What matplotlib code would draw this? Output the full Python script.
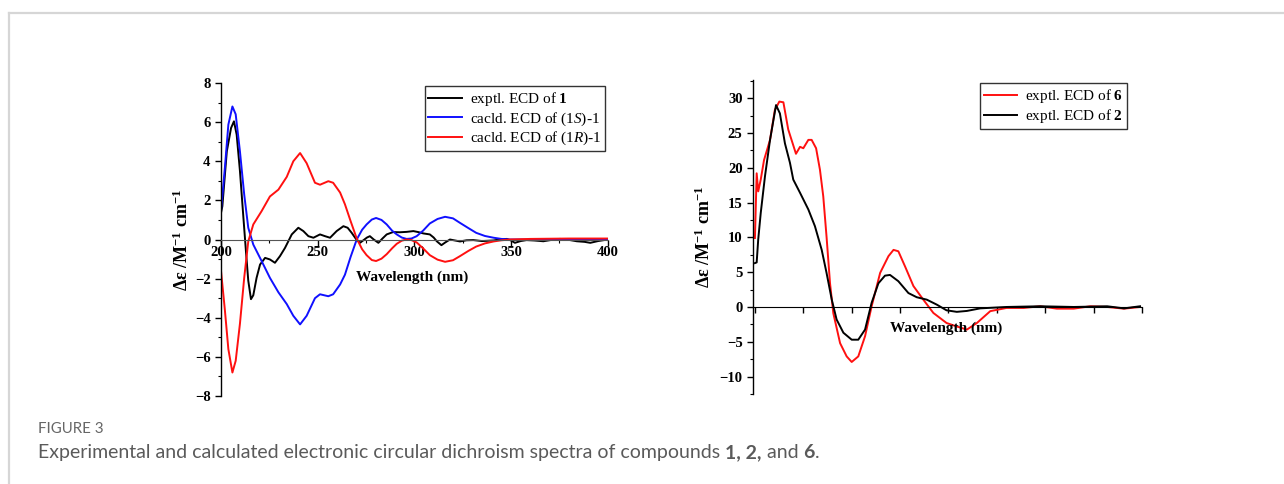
import numpy as np
import matplotlib
matplotlib.use('Agg')
import matplotlib.pyplot as plt
from matplotlib.ticker import MultipleLocator, NullFormatter
from matplotlib.lines import Line2D

plt.rcParams['font.family'] = ['Liberation Serif', 'DejaVu Serif']
plt.rcParams['mathtext.fontset'] = 'custom'
plt.rcParams['mathtext.rm'] = 'Liberation Serif'
plt.rcParams['mathtext.it'] = 'Liberation Serif:italic'
plt.rcParams['mathtext.bf'] = 'Liberation Serif:bold'

# ---- panel A: compound 1 (exptl vs calculated) ----
wl_exp1 = [200, 200.7, 203, 205.2, 206.7, 208.1, 209.8, 211.6, 212.9, 214.1, 215.5, 216.7, 218.4,
           220.2, 222.8, 225.3, 227.9, 230.5, 233.1, 236.6, 240, 242.6, 245.2, 247.8, 251.2,
           253.8, 256.4, 259.8, 263.3, 265.5, 267.6, 270, 271.9, 273.5, 275.5, 277, 279, 281.4,
           283.5, 285.7, 289, 292.5, 296, 299.5, 302, 304.7, 308, 310, 311.6, 314, 316, 318.4,
           321, 323.6, 327, 330.5, 335, 340.9, 344, 347.8, 350, 352, 355, 358, 362, 366.7, 371,
           375.3, 380, 384, 388, 391, 395, 400]
cd_exp1 = [1.36, 1.7, 4.5, 5.7, 6.04, 5.36, 3.5, 1.1, -0.6, -2.1, -3.05, -2.85, -1.96,
           -1.28, -0.94, -1.02, -1.19, -0.85, -0.43, 0.26, 0.6, 0.43, 0.17, 0.09, 0.26,
           0.17, 0.09, 0.43, 0.68, 0.6, 0.34, 0.0, -0.17, -0.05, 0.1, 0.17, 0.0, -0.17,
           0.05, 0.26, 0.38, 0.37, 0.39, 0.43, 0.38, 0.31, 0.26, 0.1, -0.09, -0.29, -0.15, 0.0,
           -0.05, -0.1, -0.04, -0.03, -0.08, -0.05, 0.0, 0.03, -0.05, -0.17, -0.08, -0.03, -0.05, -0.09, -0.02,
           0.03, -0.02, -0.09, -0.12, -0.17, -0.08, 0.0]

wl_calc1 = [200, 202, 203.8, 205.9, 207.6, 209.8, 212, 214.1, 216.7, 221, 225.3, 229.7, 234,
            237.4, 240.9, 244.3, 248.6, 251.2, 255.5, 258, 261.6, 264.1, 267, 270.2, 273, 275.3,
            278, 280.2, 283, 285.7, 288.5, 290.9, 293.5, 296, 298.5, 301.2, 304.5, 308, 312,
            315.9, 320, 323.6, 328, 332, 336.5, 341, 345, 349.5, 360, 380, 400]
cd_calc1S = [1.45, 3.66, 5.87, 6.8, 6.4, 4.5, 2.3, 0.6, -0.26, -1.1, -1.96, -2.7, -3.3,
             -3.9, -4.34, -3.9, -3.0, -2.8, -2.9, -2.8, -2.3, -1.8, -0.9, 0.0, 0.5, 0.77,
             1.02, 1.1, 1.0, 0.77, 0.45, 0.26, 0.1, 0.03, 0.05, 0.17, 0.45, 0.82, 1.05,
             1.16, 1.08, 0.85, 0.58, 0.34, 0.18, 0.09, 0.03, 0.0, 0.0, 0.0, 0.0]
cd_calc1R = [-1.6, -3.6, -5.6, -6.8, -6.2, -4.3, -1.96, -0.1, 0.77, 1.45, 2.2, 2.55, 3.2,
             4.0, 4.42, 3.9, 2.9, 2.8, 2.98, 2.9, 2.4, 1.8, 0.95, 0.05, -0.5, -0.8,
             -1.05, -1.1, -0.98, -0.75, -0.45, -0.22, -0.06, 0.0, -0.03, -0.15, -0.45, -0.8, -1.03,
             -1.14, -1.06, -0.85, -0.58, -0.36, -0.2, -0.1, -0.04, 0.0, 0.03, 0.05, 0.05]

# ---- panel B: compounds 6 and 2 (exptl) ----
wl_exp6 = [200, 200.9, 201.7, 203, 204.7, 207.8, 210.3, 212.6, 214.7, 217.2, 221.2, 223.3, 225,
           227.6, 229.3, 231.6, 233.6, 235.3, 237, 238.8, 240.5, 244, 247.4, 250, 253.4, 256.9,
           260.3, 264.7, 269, 271.6, 274.1, 277.6, 281.9, 287, 292.2, 299, 304.3, 309.5, 314.7,
           321.6, 330, 338.8, 347.4, 356, 364.7, 373.3, 382, 390.7, 399]
cd_exp6 = [9.9, 19.2, 16.6, 18.3, 21.1, 24.0, 28.3, 29.5, 29.4, 25.5, 22.0, 23.0, 22.8,
           24.0, 24.0, 22.8, 19.7, 15.9, 10.1, 3.4, -0.9, -5.2, -7.1, -7.9, -7.1, -4.2,
           0.1, 4.9, 7.3, 8.2, 8.0, 5.8, 3.0, 1.05, -0.86, -2.3, -2.8, -3.25, -2.3,
           -0.6, -0.14, -0.14, 0.1, -0.24, -0.24, 0.1, 0.0, -0.24, 0.0]

wl_exp2 = [200, 200.9, 201.7, 203, 205.2, 207.8, 210.9, 212.9, 215.5, 218.1, 219.8, 223.3, 227.6,
           231, 234.5, 237, 239.7, 242.2, 245.7, 250, 253.4, 256.9, 260.3, 263.8, 267.2, 269.8,
           274.1, 279.3, 283.6, 288.8, 294, 299, 304.3, 309.5, 316.4, 330, 347.4, 364.7, 382,
           390.7, 399]
cd_exp2 = [6.3, 6.4, 9.7, 13.5, 18.8, 24.0, 29.0, 27.8, 23.5, 20.7, 18.3, 16.4, 14.0,
           11.6, 8.2, 4.9, 1.05, -1.8, -3.7, -4.7, -4.7, -3.25, 0.6, 3.4, 4.5, 4.6,
           3.7, 2.0, 1.4, 1.05, 0.33, -0.48, -0.7, -0.57, -0.2, 0.0, 0.1, 0.0, 0.1,
           -0.2, 0.1]

W, H = 1284, 484
fig = plt.figure(figsize=(W / 100, H / 100), dpi=100)

# card border lines
fig.add_artist(Line2D([9 / W, 1], [1 - 13 / H, 1 - 13 / H], color='#d6d6d6', lw=1.6))
fig.add_artist(Line2D([9 / W, 9 / W], [0, 1 - 13 / H], color='#d6d6d6', lw=1.6))


def style_axes(ax):
    for s in ['top', 'right']:
        ax.spines[s].set_visible(False)
    ax.spines['bottom'].set_position(('data', 0))
    ax.spines['bottom'].set_color('#555555')
    ax.spines['left'].set_linewidth(1.0)
    ax.tick_params(axis='both', which='major', direction='out', length=4, width=1, labelsize=10.5)
    ax.tick_params(axis='both', which='minor', direction='out', length=2.5, width=0.8)
    ax.tick_params(axis='x', pad=1)
    for lab in ax.get_xticklabels() + ax.get_yticklabels():
        lab.set_fontweight('bold')


lw = 1.4
ylab = r'Δε /M$^{\mathbf{-1}}$ cm$^{\mathbf{-1}}$'

# Panel A
ax1 = fig.add_axes([221 / W, 1 - 396 / H, (607.7 - 221) / W, (396 - 83) / H])
ax1.plot(wl_exp1, cd_exp1, color='black', lw=lw, label=r'exptl. ECD of $\mathbf{1}$')
ax1.plot(wl_calc1, cd_calc1S, color='#1010ff', lw=lw, label=r'cacld. ECD of (1$\mathit{S}$)-1')
ax1.plot(wl_calc1, cd_calc1R, color='#ff1010', lw=lw, label=r'cacld. ECD of (1$\mathit{R}$)-1')
ax1.set_xlim(200, 400)
ax1.set_ylim(-8, 8)
ax1.xaxis.set_major_locator(MultipleLocator(50))
ax1.xaxis.set_minor_locator(MultipleLocator(25))
ax1.yaxis.set_major_locator(MultipleLocator(2))
ax1.yaxis.set_minor_locator(MultipleLocator(1))
style_axes(ax1)
ax1.text(299, -1.95, 'Wavelength (nm)', ha='center', va='center', fontsize=11, fontweight='bold')
ax1.set_ylabel(ylab, fontsize=13, fontweight='bold', labelpad=2)
leg1 = ax1.legend(loc='upper right', bbox_to_anchor=(0.993, 0.99), borderaxespad=0,
                  fontsize=11, frameon=True, fancybox=False, edgecolor='black',
                  handlelength=2.2, borderpad=0.25, labelspacing=0.15, handletextpad=0.5)
leg1.get_frame().set_linewidth(1.0)

# Panel B
ax2 = fig.add_axes([753 / W, 1 - 394 / H, (1142 - 753) / W, (394 - 80) / H])
ax2.plot(wl_exp6, cd_exp6, color='#ff1010', lw=lw, label=r'exptl. ECD of $\mathbf{6}$')
ax2.plot(wl_exp2, cd_exp2, color='black', lw=lw, label=r'exptl. ECD of $\mathbf{2}$')
ax2.set_xlim(199, 400)
ax2.set_ylim(-12.5, 32.6)
ax2.xaxis.set_major_locator(MultipleLocator(25))
ax2.xaxis.set_major_formatter(NullFormatter())
ax2.yaxis.set_major_locator(MultipleLocator(5))
ax2.yaxis.set_minor_locator(MultipleLocator(2.5))
style_axes(ax2)
ax2.spines['bottom'].set_color('black')
ax2.text(299, -3.1, 'Wavelength (nm)', ha='center', va='center', fontsize=11, fontweight='bold')
ax2.set_ylabel(ylab, fontsize=13, fontweight='bold', labelpad=4)
leg2 = ax2.legend(loc='upper right', bbox_to_anchor=(0.961, 0.99), borderaxespad=0,
                  fontsize=11, frameon=True, fancybox=False, edgecolor='black',
                  handlelength=2.2, borderpad=0.25, labelspacing=0.15, handletextpad=0.5)
leg2.get_frame().set_linewidth(1.0)

# caption
cap_color = '#5a5a5a'
fig.text(38 / W, 1 - 433 / H, 'FIGURE 3', fontsize=10.8, color='#666666', family='Lato',
         va='baseline', ha='left')

pieces = [('Experimental and calculated electronic circular dichroism spectra of compounds ', 'normal'),
          ('1, 2,', 'bold'), (' and ', 'normal'), ('6', 'bold'), ('.', 'normal')]
renderer = fig.canvas.get_renderer()
x = 38 / W
for txt, wt in pieces:
    t = fig.text(x, 1 - 458 / H, txt, fontsize=14, color=cap_color, family='Lato',
                 fontweight=wt, va='baseline', ha='left')
    bb = t.get_window_extent(renderer=renderer)
    x += bb.width / W

fig.savefig('out.png', dpi=100)
